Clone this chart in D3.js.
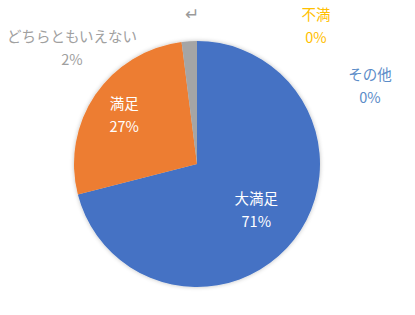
<!DOCTYPE html>
<html lang="ja">
<head>
<meta charset="UTF-8" />
<script src="https://cdn.jsdelivr.net/npm/d3@7"></script>
<style>
  html, body { margin: 0; padding: 0; background: #fff; overflow: hidden; }
  svg { display: block; }
  text { font-family: "Noto Sans CJK JP", "Noto Sans", sans-serif; font-size: 14.5px; }
</style>
</head>
<body>
<script>
// data
const categories = ["大満足", "満足", "どちらともいえない", "不満", "その他"];
const values = [71, 27, 2, 0, 0];
const colors = ["#4472C4", "#ED7D31", "#A5A5A5", "#FFC000", "#5B9BD5"];
const labelColors = ["#ffffff", "#ffffff", "#A0A0A0", "#FFC000", "#5B8CC8"];

const width = 415, height = 315;
const cx = 197, cy = 164, radius = 123;

// label placement: inside slices use a radius, outside ones sit where Excel left them
const insideRadius = [75, 88];
const outsidePos = { 2: [72, 37], 3: [316, 15], 4: [370, 75] };

const svg = d3.select("body").append("svg")
  .attr("width", width)
  .attr("height", height);

const defs = svg.append("defs");
const f = defs.append("filter").attr("id", "glow")
  .attr("x", "-10%").attr("y", "-10%").attr("width", "120%").attr("height", "120%");
f.append("feGaussianBlur").attr("in", "SourceAlpha").attr("stdDeviation", 2).attr("result", "b");
f.append("feFlood").attr("flood-color", "#000").attr("flood-opacity", 0.25);
f.append("feComposite").attr("in2", "b").attr("operator", "in").attr("result", "s");
const m = f.append("feMerge");
m.append("feMergeNode").attr("in", "s");
m.append("feMergeNode").attr("in", "SourceGraphic");

const pie = d3.pie().sort(null).value(d => d)(values);
const arc = d3.arc().innerRadius(0).outerRadius(radius);

const g = svg.append("g").attr("transform", `translate(${cx},${cy})`);

g.append("g").attr("filter", "url(#glow)")
  .selectAll("path")
  .data(pie)
  .join("path")
  .attr("d", arc)
  .attr("fill", (d, i) => colors[i]);

// labels
pie.forEach((d, i) => {
  let x, y;
  if (i < 2) {
    const a = d3.arc().innerRadius(insideRadius[i]).outerRadius(insideRadius[i]);
    [x, y] = a.centroid(d);
    x += cx; y += cy - 11;
  } else {
    [x, y] = outsidePos[i];
  }
  const t = svg.append("text")
    .attr("text-anchor", "middle")
    .attr("fill", labelColors[i]);
  t.append("tspan").attr("x", x).attr("y", y + 5).text(categories[i]);
  t.append("tspan").attr("x", x).attr("y", y + 28).text(values[i] + "%");
});

// stray return mark
svg.append("text")
  .attr("x", 192).attr("y", 20)
  .attr("text-anchor", "middle")
  .attr("fill", "#9a9a9a")
  .style("font-size", "17px")
  .text("↵");
</script>
</body>
</html>
